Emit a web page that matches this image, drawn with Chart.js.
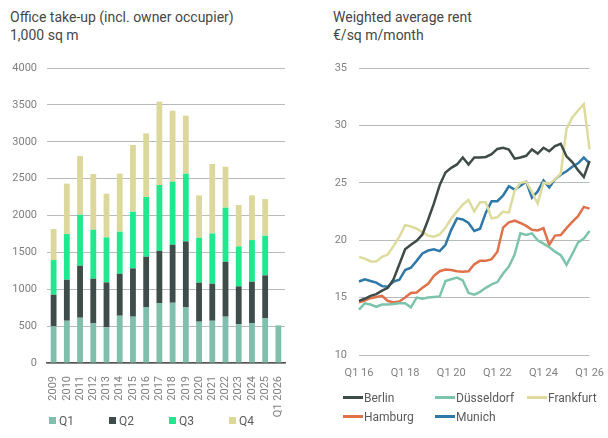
<!DOCTYPE html>
<html>
<head>
<meta charset="utf-8">
<script src="https://cdn.jsdelivr.net/npm/chart.js@4"></script>
<style>
  body { margin: 0; background: #fff; font-family: Roboto, sans-serif; }
  #wrap { position: relative; width: 608px; height: 438px; overflow: hidden; }
  .title { position: absolute; top: 8px; font-size: 14px; line-height: 18px; color: #474747; }
  canvas { position: absolute; top: 0; }
  .legend { position: absolute; display: flex; flex-wrap: wrap; font-size: 12px; color: #5a5a5a; }
  .legend .item { display: flex; align-items: center; height: 19px; }
  .legend .box { width: 7px; height: 7px; margin-right: 3px; }
  .legend .line { width: 20px; height: 3px; margin-right: 1px; }
</style>
</head>
<body>
<div id="wrap">
  <div class="title" style="left:10px">Office take-up (incl. owner occupier)<br>1,000 sq m</div>
  <div class="title" style="left:333px">Weighted average rent<br>€/sq m/month</div>
  <canvas id="takeup" width="300" height="432" style="left:0"></canvas>
  <canvas id="rent" width="308" height="385" style="left:300px"></canvas>
  <div class="legend" id="leg1" style="left:49px; top:411px; width:250px"></div>
  <div class="legend" id="leg2" style="left:343px; top:388px; width:290px"></div>
</div>
<script>
// office take-up, 1,000 sq m per quarter
const years = ['2009', '2010', '2011', '2012', '2013', '2014', '2015', '2016', '2017',
  '2018', '2019', '2020', '2021', '2022', '2023', '2024', '2025', 'Q1 2026'];
const q1 = [497, 573, 614, 537, 483, 641, 628, 759, 813, 817, 754, 560, 573, 628, 528, 542, 605, 510];
const q2 = [429, 556, 705, 606, 610, 570, 655, 682, 709, 787, 895, 529, 502, 745, 511, 560, 583, null];
const q3 = [470, 619, 692, 664, 610, 569, 768, 810, 891, 855, 918, 610, 682, 733, 542, 565, 538, null];
const q4 = [420, 684, 796, 756, 593, 787, 905, 863, 1130, 962, 787, 574, 941, 556, 561, 606, 498, null];

// weighted average rent, EUR/sq m/month
const quarters = [
  'Q1 16', 'Q2 16', 'Q3 16', 'Q4 16', 'Q1 17', 'Q2 17', 'Q3 17', 'Q4 17',
  'Q1 18', 'Q2 18', 'Q3 18', 'Q4 18', 'Q1 19', 'Q2 19', 'Q3 19', 'Q4 19',
  'Q1 20', 'Q2 20', 'Q3 20', 'Q4 20', 'Q1 21', 'Q2 21', 'Q3 21', 'Q4 21',
  'Q1 22', 'Q2 22', 'Q3 22', 'Q4 22', 'Q1 23', 'Q2 23', 'Q3 23', 'Q4 23',
  'Q1 24', 'Q2 24', 'Q3 24', 'Q4 24', 'Q1 25', 'Q2 25', 'Q3 25', 'Q4 25', 'Q1 26'];
const berlin = [14.72, 14.9, 15.15, 15.3, 15.6, 15.85, 16.6, 17.9, 19.2, 19.6, 19.95, 20.5,
  21.8, 23.2, 24.8, 25.9, 26.3, 26.6, 27.2, 26.6, 27.2, 27.2, 27.25, 27.5, 27.95, 28.05,
  27.9, 27.1, 27.2, 27.35, 27.9, 27.55, 28.05, 27.75, 28.2, 28.4, 27.3, 26.8, 26.1, 25.5, 26.9];
const duesseldorf = [13.95, 14.5, 14.4, 14.2, 14.4, 14.4, 14.45, 14.5, 14.5, 14.15, 15.0, 14.9,
  15.0, 15.05, 15.1, 16.45, 16.6, 16.75, 16.5, 15.4, 15.25, 15.5, 15.85, 16.15, 16.35, 17.1,
  17.7, 18.75, 20.6, 20.45, 20.6, 20.0, 19.7, 19.4, 19.0, 18.7, 17.85, 18.8, 19.8, 20.15, 20.8];
const frankfurt = [18.55, 18.4, 18.15, 18.15, 18.55, 18.75, 19.5, 20.3, 21.3, 21.2, 21.0, 20.7,
  20.4, 20.3, 20.5, 21.1, 21.9, 22.5, 23.1, 23.5, 22.5, 23.3, 23.3, 21.9, 22.0, 22.5,
  22.4, 24.3, 25.0, 25.1, 24.2, 23.2, 25.0, 24.9, 25.3, 25.8, 29.7, 30.7, 31.3, 31.85, 27.9];
const hamburg = [14.6, 14.75, 14.95, 15.05, 15.15, 14.7, 14.6, 14.65, 15.0, 15.4, 15.45, 15.85,
  16.2, 16.9, 17.3, 17.45, 17.4, 17.3, 17.25, 17.3, 17.9, 18.2, 18.2, 18.35, 19.0, 21.1,
  21.55, 21.7, 21.5, 21.25, 20.9, 20.85, 21.05, 19.6, 20.4, 20.45, 21.05, 21.6, 22.1, 22.9, 22.75];
const munich = [16.4, 16.6, 16.45, 16.3, 16.0, 15.95, 16.4, 16.55, 17.4, 17.6, 18.2, 18.85,
  19.1, 19.2, 19.05, 19.6, 20.9, 21.9, 21.8, 21.5, 20.8, 21.0, 22.4, 23.4, 23.4, 23.9,
  24.7, 24.4, 24.75, 25.1, 23.7, 24.25, 25.2, 24.6, 25.3, 25.7, 26.0, 26.4, 26.7, 27.2, 26.7];

const tickColor = '#808080';
const gridColor = '#b7bcba';
Chart.defaults.font.family = 'Roboto, sans-serif';

const barSets = [
  { label: 'Q1', data: q1, backgroundColor: '#7fbfab' },
  { label: 'Q2', data: q2, backgroundColor: '#3f4d4a' },
  { label: 'Q3', data: q3, backgroundColor: '#1fe88e' },
  { label: 'Q4', data: q4, backgroundColor: '#dcd89c' }
];

new Chart(document.getElementById('takeup'), {
  type: 'bar',
  data: {
    labels: years,
    datasets: barSets.map(d => ({ ...d, barPercentage: 0.44, categoryPercentage: 1 }))
  },
  options: {
    responsive: false,
    animation: false,
    layout: { padding: { top: 68, right: 15, left: 0, bottom: 0 } },
    plugins: { legend: { display: false }, tooltip: { enabled: false } },
    scales: {
      x: {
        stacked: true,
        grid: { display: false },
        border: { color: '#555', width: 1.5 },
        ticks: { minRotation: 90, maxRotation: 90, autoSkip: false, padding: 5, color: tickColor, font: { size: 11 } },
        afterFit: s => { s.height = 69; }
      },
      y: {
        stacked: true,
        min: 0,
        max: 4000,
        ticks: { stepSize: 500, padding: 10, color: tickColor, font: { size: 11 }, callback: v => String(v) },
        grid: { color: gridColor, drawTicks: false },
        border: { display: false },
        afterFit: s => { s.width = 47; }
      }
    }
  }
});

const lineSets = [
  { label: 'Berlin', data: berlin, borderColor: '#3e4b48' },
  { label: 'Düsseldorf', data: duesseldorf, borderColor: '#7dc4ab' },
  { label: 'Frankfurt', data: frankfurt, borderColor: '#dedb9e' },
  { label: 'Hamburg', data: hamburg, borderColor: '#e0724b' },
  { label: 'Munich', data: munich, borderColor: '#2f78a8' }
];

new Chart(document.getElementById('rent'), {
  type: 'line',
  data: {
    labels: quarters,
    datasets: lineSets.map(d => ({ ...d, borderWidth: 2.5, pointRadius: 0, tension: 0, fill: false }))
  },
  options: {
    responsive: false,
    animation: false,
    layout: { padding: { top: 68, right: 17, left: 0, bottom: 0 } },
    plugins: { legend: { display: false }, tooltip: { enabled: false } },
    scales: {
      x: {
        offset: false,
        grid: { display: false },
        border: { display: false },
        ticks: {
          autoSkip: false, maxRotation: 0, minRotation: 0, padding: 4, color: tickColor, font: { size: 11 },
          callback: function (v, i) { return i % 8 === 0 ? this.getLabelForValue(v) : ''; }
        },
        afterFit: s => { s.height = 30; }
      },
      y: {
        min: 10,
        max: 35,
        ticks: { stepSize: 5, padding: 12, color: tickColor, font: { size: 11 } },
        grid: { color: gridColor, drawTicks: false },
        border: { display: false },
        afterFit: s => { s.width = 59; }
      }
    }
  }
});

// html legends
const leg1 = document.getElementById('leg1');
barSets.forEach(d => {
  leg1.innerHTML += '<div class="item" style="width:60px"><span class="box" style="background:' +
    d.backgroundColor + '"></span>' + d.label + '</div>';
});
const leg2 = document.getElementById('leg2');
lineSets.forEach(d => {
  leg2.innerHTML += '<div class="item" style="width:92px"><span class="line" style="background:' +
    d.borderColor + '"></span>' + d.label + '</div>';
});
</script>
</body>
</html>
